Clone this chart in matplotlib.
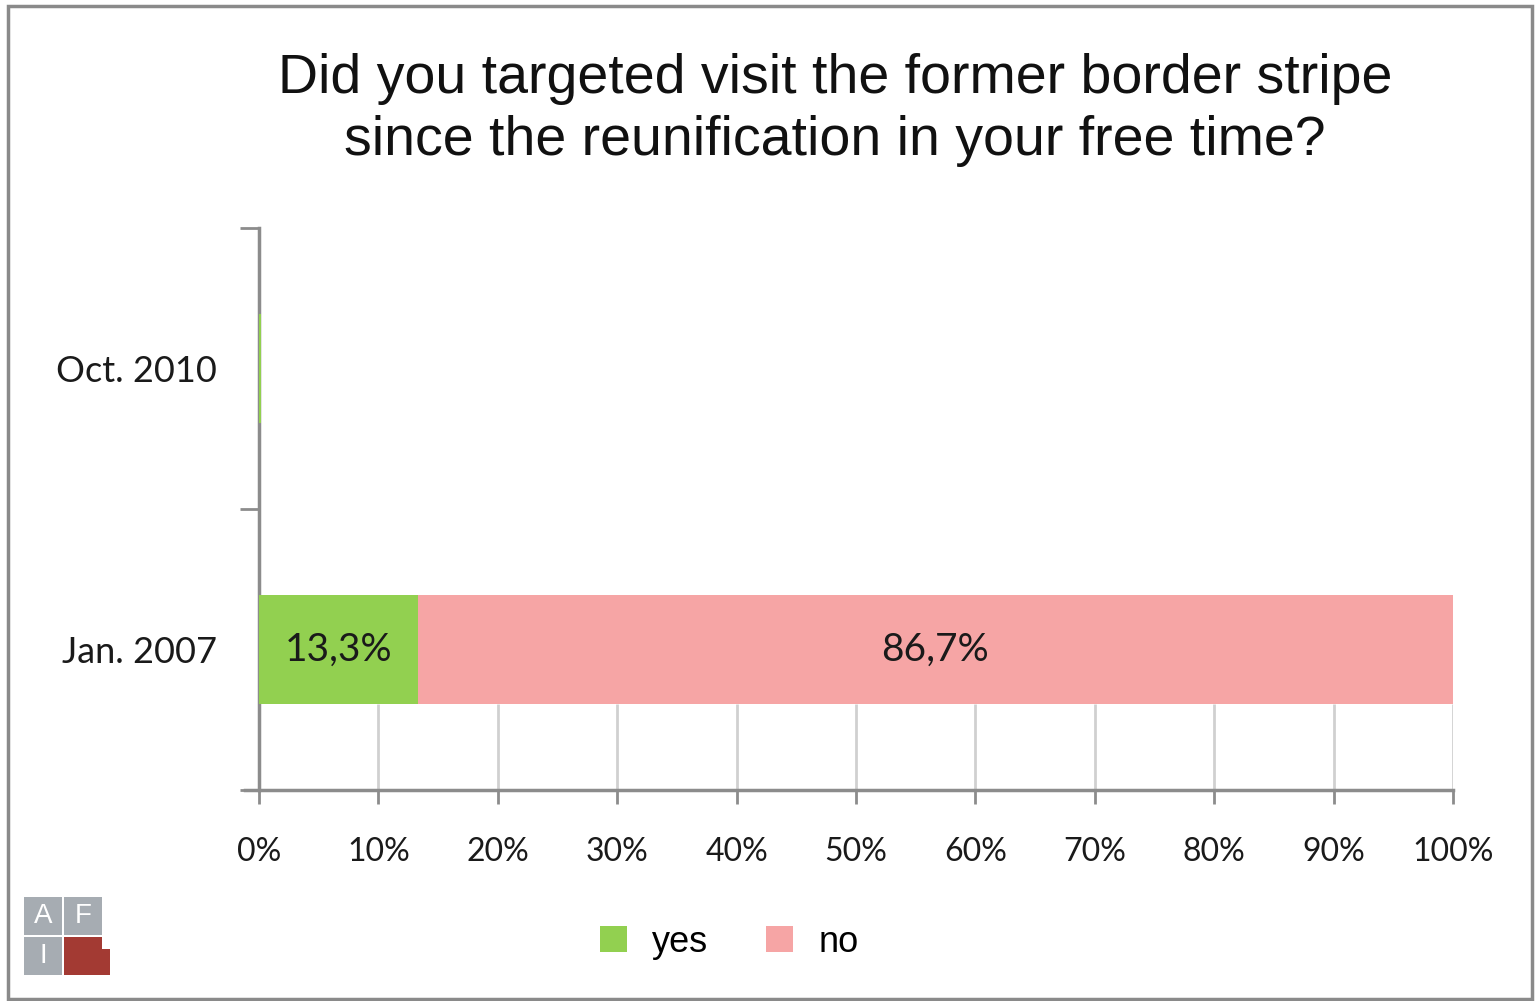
import matplotlib
matplotlib.use("Agg")
import matplotlib.pyplot as plt
from matplotlib.patches import Rectangle

categories = ["Jan. 2007", "Oct. 2010"]
yes_vals = [13.3, 0.0]
no_vals = [86.7, 0.0]
yes_labels = ["13,3%", ""]
no_labels = ["86,7%", ""]
xticks = [0, 10, 20, 30, 40, 50, 60, 70, 80, 90, 100]
xtick_labels = [f"{t}%" for t in xticks]
series_names = ["yes", "no"]
title = "Did you targeted visit the former border stripe\nsince the reunification in your free time?"

GREEN = "#92D050"
PINK = "#F6A5A5"
GRAY = "#8C8C8C"

W, H = 1537, 1001
fig = plt.figure(figsize=(W / 100, H / 100), dpi=100)
fig.patch.set_facecolor("white")
# outer frame
fig.patches.append(Rectangle((8 / W, 2 / H), (1532 - 8) / W, (995 - 2) / H,
                             transform=fig.transFigure, fill=False,
                             edgecolor="#8a8a8a", linewidth=2.5))

ax = fig.add_axes([259 / W, 1 - 790 / H, (1453 - 259) / W, (790 - 228) / H])
y = list(range(len(categories)))
bh = 0.385
b1 = ax.barh(y, yes_vals, height=bh, color=GREEN, label=series_names[0], zorder=3)
b2 = ax.barh(y, no_vals, left=yes_vals, height=bh, color=PINK, label=series_names[1], zorder=3)
# thin green sliver for Oct. 2010 (value 0)
ax.barh([1], [0.15], height=bh, color=GREEN, zorder=3)

for rect, lab in zip(b1, yes_labels):
    if lab:
        ax.text(rect.get_x() + rect.get_width() / 2, rect.get_y() + rect.get_height() / 2,
                lab, ha="center", va="center", fontsize=28, family="Lato", color="#1a1a1a", zorder=4)
for rect, lab in zip(b2, no_labels):
    if lab:
        ax.text(rect.get_x() + rect.get_width() / 2, rect.get_y() + rect.get_height() / 2,
                lab, ha="center", va="center", fontsize=28, family="Lato", color="#1a1a1a", zorder=4)

ax.set_xlim(0, 100)
ax.set_ylim(-0.5, 1.5)
# vertical gridlines, visible only below the lower bar
ax.vlines(xticks[1:], -0.5, -bh / 2, colors="#D0D0D0", linewidth=2, zorder=1)

ax.set_xticks(xticks)
ax.set_xticklabels(xtick_labels, fontsize=23, family="Lato", color="#1a1a1a")
ax.set_yticks(y)
ax.set_yticklabels(categories, fontsize=26, family="Lato", color="#1a1a1a")
ax.set_yticks([-0.5, 0.5, 1.5], minor=True)
ax.tick_params(axis="y", which="major", length=0, pad=30)
ax.tick_params(axis="y", which="minor", length=14, width=2, color=GRAY)
ax.tick_params(axis="x", length=10, width=2, color=GRAY, pad=24)
for s in ["top", "right"]:
    ax.spines[s].set_visible(False)
for s in ["left", "bottom"]:
    ax.spines[s].set_color(GRAY)
    ax.spines[s].set_linewidth(2.5)
ax.spines["bottom"].set_bounds(-1.2, 100)

fig.text(835 / W, 1 - 110 / H, title, ha="center", va="center", fontsize=40,
         family="Liberation Sans", color="#111111", linespacing=1.25)

leg = fig.legend(handles=[b1, b2], labels=series_names, loc="center",
                 bbox_to_anchor=(729 / W, 1 - 942 / H), ncol=2, frameon=False,
                 prop={"family": "Liberation Sans", "size": 26},
                 handlelength=0.75, handleheight=0.75, handletextpad=0.7, columnspacing=1.6)

# AFI logo
lx, ly = 24, 897
cell = 38
gap = 2
logo_cells = [(0, 0, "#A6ACB2", "A"), (1, 0, "#A6ACB2", "F"), (0, 1, "#A6ACB2", "I"), (1, 1, "#A33A33", "")]
for cx, cy, col, letter in logo_cells:
    x0 = lx + cx * (cell + gap)
    y0 = ly + cy * (cell + gap)
    fig.patches.append(Rectangle((x0 / W, 1 - (y0 + cell) / H), cell / W, cell / H,
                                 transform=fig.transFigure, facecolor=col, edgecolor="none"))
    if letter:
        fig.text((x0 + cell / 2) / W, 1 - (y0 + cell / 2) / H, letter, ha="center", va="center",
                 fontsize=20, color="white", family="Liberation Sans")
fig.patches.append(Rectangle(((lx + 2 * cell + gap) / W, 1 - (ly + 2 * cell + gap) / H), 8 / W, 26 / H,
                             transform=fig.transFigure, facecolor="#A33A33", edgecolor="none"))

fig.savefig("out.png", dpi=100)
